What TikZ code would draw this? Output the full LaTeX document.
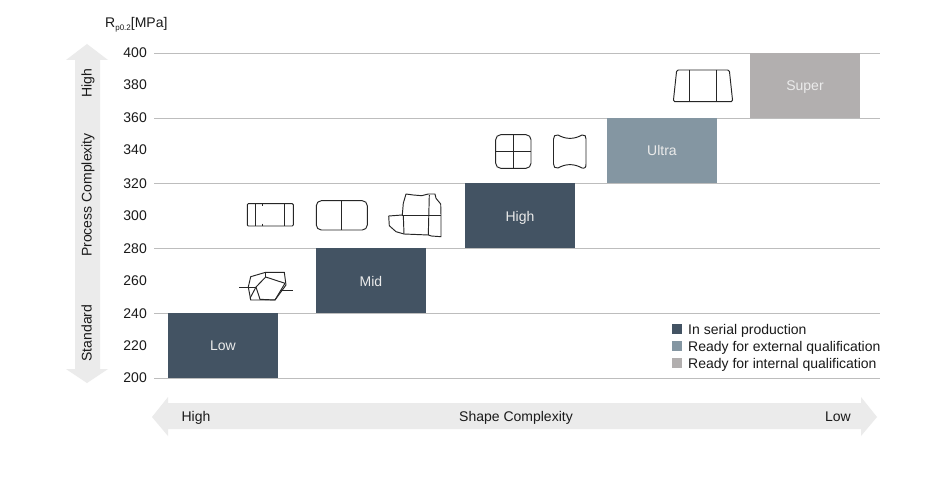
\documentclass[tikz,border=0pt]{standalone}
\usepackage{fontspec}
\setmainfont{Liberation Sans}
\definecolor{txt}{HTML}{1A1A1A}
\definecolor{gridl}{HTML}{BDBDBD}
\definecolor{arrowg}{HTML}{EBEBEB}
\definecolor{serial}{HTML}{435363}
\definecolor{external}{HTML}{8496A2}
\definecolor{internal}{HTML}{B2AFAF}
\tikzset{
  lbl/.style={text=txt, inner sep=0pt, text height=10pt, text depth=0pt, font=\fontsize{14}{16}\selectfont},
  blocklbl/.style={text=white!92!black, inner sep=0pt, text height=10pt, text depth=0pt, font=\fontsize{14}{16}\selectfont},
  icon/.style={black!85, line width=.95pt, line join=round}
}
\begin{document}
\begin{tikzpicture}[x=1pt, y=-1pt]
        \useasboundingbox (0,0) rectangle (940,500);
        \fill[white] (0,0) rectangle (940,500);

        % arrows
        \fill[arrowg] (87,44) -- (108,60) -- (100,60) -- (100,369) -- (108,369)
                      -- (87,383) -- (66,369) -- (75,369) -- (75,60) -- (66,60) -- cycle;
        \fill[arrowg] (152,417) -- (168,397) -- (168,403) -- (861,403) -- (861,397)
                      -- (877,417) -- (861,436) -- (861,429) -- (168,429) -- (168,436) -- cycle;

        % grid and scale
        \foreach \y in {53,118,183,248,313,378}
          \draw[gridl, line width=.9pt] (154,\y) -- (880,\y);
        \foreach \v/\y in {400/53, 380/85, 360/118, 340/150, 320/183,
                           300/215, 280/248, 260/280, 240/313, 220/345, 200/377.5}
          \node[lbl, anchor=east] (tick\v) at (147,\y) {\v};
        \node[lbl, anchor=west] (unit) at (105,22.5)
          {R\raisebox{-3pt}{\fontsize{8}{8}\selectfont p0.2}[MPa]};

        % steps
        \fill[serial] (168,313) rectangle (278,378);
        \fill[serial] (316,248) rectangle (426,313);
        \fill[serial] (465,183) rectangle (575,248);
        \fill[external] (607,118) rectangle (717,183);
        \fill[internal] (750,53) rectangle (860,118);
        \node[blocklbl] (low) at (223,345.5) {Low};
        \node[blocklbl] (mid) at (371,281) {Mid};
        \node[blocklbl] (high) at (520,216) {High};
        \node[blocklbl] (ultra) at (662,151) {Ultra};
        \node[blocklbl] (super) at (805,86) {Super};

        % arrow labels
        \node[lbl, rotate=90] (phigh) at (86.5,83) {High};
        \node[lbl, rotate=90] (pmid) at (86.5,195) {Process Complexity};
        \node[lbl, rotate=90] (pstd) at (86.5,333) {Standard};
        \node[lbl] (shigh) at (196,416) {High};
        \node[lbl] (smid) at (516,416) {Shape Complexity};
        \node[lbl] (slow) at (838,416) {Low};

        % legend
        \foreach \y/\c/\t in {329/serial/In serial production,
                              346/external/Ready for external qualification,
                              363/internal/Ready for internal qualification} {
          \fill[\c] (672,\y-5) rectangle (682,\y+5);
          \node[lbl, anchor=west] at (688,\y) {\t};
        }

        % shapes
        \begin{scope}[icon]
          \draw[rounded corners=1pt] (247.3,203.7) rectangle (293.3,226);
          \draw (255,203.7) -- (255,226);
          \draw (284.3,203.7) -- (284.3,226);
          \draw[line width=.6pt] (262,203.7) -- (262,206);
          \draw[line width=.6pt] (262,223.7) -- (262,226);

          \draw[rounded corners=5pt] (316.3,200.7) rectangle (367.3,230);
          \draw (341.7,200.7) -- (341.7,230);

          \draw (402.3,215) -- (403.3,203.3) -- (406,194) -- (413.3,195) -- (421.7,195.7)
                -- (428.3,194) -- (435,194) -- (436,198.3) -- (440.7,204) -- (441,215)
                -- (441,236.7) -- (431.3,236) -- (428.3,235) -- (404,234) -- (396,231.7)
                -- (389.3,225.7) -- (388.7,216) -- cycle;
          \draw (402.3,215.3) -- (441,215.3);
          \draw (403.3,215.3) -- (404,234);
          \draw (429.3,195) -- (428.3,235);

          \draw (250.7,276.7) -- (265.7,272.3) -- (284.3,272.3) -- (286,285) -- (275,300)
                -- (258.3,300) -- (250.7,300) -- (248.3,287) -- cycle;
          \draw (265.7,277) -- (285,283.3) -- (275,300) -- (260,299.3) -- (256,287) -- cycle;
          \draw (265.7,272.3) -- (265.7,277);
          \draw (248.3,287) -- (256,287);
          \draw (250,298.3) -- (256,287);
          \draw (239.3,287) -- (248.3,287);
          \draw (280,290.7) -- (293.3,290.7);

          \draw[rounded corners=5pt] (495.7,134.7) rectangle (531,168.3);
          \draw (513.3,134.7) -- (513.3,168.3);
          \draw (495.7,151.7) -- (531,151.7);

          \draw (558,135) .. controls (566,139.5) and (574,139.5) .. (582,135)
                .. controls (585,134.5) and (586,136) .. (586,139)
                -- (586,164)
                .. controls (586,167.5) and (585,168.5) .. (582,168)
                .. controls (574,163.5) and (566,163.5) .. (558,168)
                .. controls (555,168.5) and (553.5,167) .. (553.5,164)
                -- (553.5,139)
                .. controls (553.5,136) and (555,134.5) .. (558,135) -- cycle;

          \draw[rounded corners=1.5pt] (676.7,70) -- (729.3,70) -- (732.7,101.7) -- (673.3,101.7) -- cycle;
          \draw (689.3,70) -- (689.3,101.7);
          \draw (716.7,70) -- (716.7,101.7);
        \end{scope}
      \end{tikzpicture}
\end{document}
